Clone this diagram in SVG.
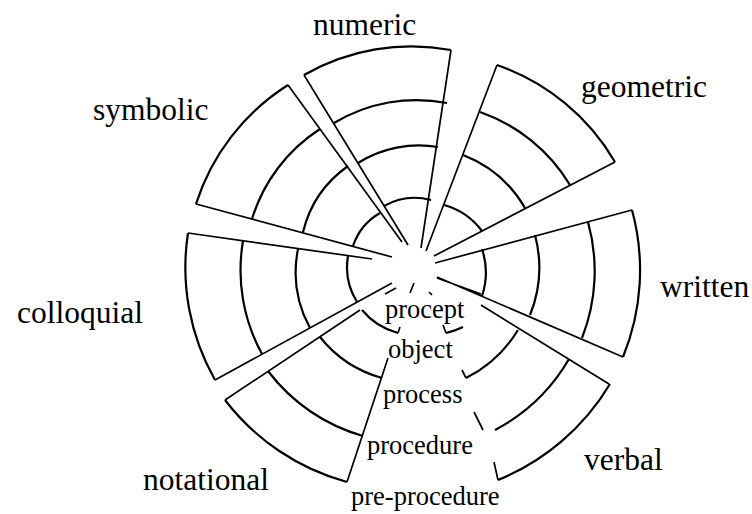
<svg xmlns="http://www.w3.org/2000/svg" width="752" height="514" viewBox="0 0 752 514">
  <style>
    .ring { fill: none; stroke: #000; stroke-width: 2.2; stroke-linecap: butt; }
    .spoke { fill: none; stroke: #000; stroke-width: 1.7; stroke-linecap: butt; }
    .big { font-family: "Liberation Serif", "Times New Roman", serif; font-size: 31.5px; fill: #000; }
    .small { font-family: "Liberation Serif", "Times New Roman", serif; font-size: 26.5px; fill: #000; }
  </style>
  <rect width="752" height="514" fill="#fff"/>

  <!-- numeric sector -->
  <g id="numeric">
    <path class="spoke" d="M304,75 L408,245 M451,50 L421,248"/>
    <path class="ring" d="M304,75 A216,216 0 0 1 451,50 M334,123 A160,160 0 0 1 447,103 M358,163 A115,115 0 0 1 438,147 M384,206 A63,63 0 0 1 431,200"/>
    <text class="big" x="313" y="35">numeric</text>
  </g>

  <!-- geometric sector -->
  <g id="geometric">
    <path class="spoke" d="M497,65 L426,251 M615,162 L434,256"/>
    <path class="ring" d="M497,65 A220,220 0 0 1 615,162 M480,112 A170,170 0 0 1 570,185 M463,155 A122,122 0 0 1 525,208 M444,205 A71,71 0 0 1 482,231"/>
    <text class="big" x="581" y="97">geometric</text>
  </g>

  <!-- written sector -->
  <g id="written">
    <path class="spoke" d="M632,210 L435,263 M623,357 L437,277 M437,278 L481,294"/>
    <path class="ring" d="M632,210 A229,229 0 0 1 623,357 M588,222 A183,183 0 0 1 582,338 M535,235 A127,127 0 0 1 530,315 M482,249 A74,74 0 0 1 482,296"/>
    <text class="big" x="660" y="297">written</text>
  </g>

  <!-- verbal sector (its inner edge is broken) -->
  <g id="verbal">
    <path class="spoke" d="M481,305 L609,384"/>
    <path class="spoke" d="M494,462 L498,480 M474,412 L483,430 M462,370 L466,378 M443,325 L446,333 M429,292 L432,295"/>
    <path class="ring" d="M610,384 A233,233 0 0 1 498,480 M569,359 A186,186 0 0 1 495,430 M518,330 A128,128 0 0 1 466,378 M463,327 A80,80 0 0 1 446,333"/>
    <text class="big" x="584" y="470">verbal</text>
  </g>

  <!-- notational sector -->
  <g id="notational">
    <path class="spoke" d="M225,400 L360,310 M385,294 L396,288 M347,482 L388,358 M398,333 L400,327 M410,293 L414,283"/>
    <path class="ring" d="M347,482 A230,230 0 0 1 225,400 M363,436 A181,181 0 0 1 268,371 M382,378 A120,120 0 0 1 320,337 M398,333 A70,70 0 0 1 362,310"/>
    <text class="big" x="143" y="490">notational</text>
  </g>

  <!-- colloquial sector -->
  <g id="colloquial">
    <path class="spoke" d="M188,233 L372,259 M215,380 L392,283"/>
    <path class="ring" d="M215,380 A228,228 0 0 1 188,233 M262,354 A174,174 0 0 1 243,241 M310,328 A117,117 0 0 1 298,249 M357,302 A66,66 0 0 1 348,256"/>
    <text class="big" x="17" y="323">colloquial</text>
  </g>

  <!-- symbolic sector -->
  <g id="symbolic">
    <path class="spoke" d="M196,204 L392,257 M288,85 L402,242"/>
    <path class="ring" d="M196,204 A220,220 0 0 1 288,85 M252,219 A164,164 0 0 1 320,129 M303,232 A114,114 0 0 1 348,166 M353,246 A60,60 0 0 1 380,213"/>
    <text class="big" x="93" y="120">symbolic</text>
  </g>

  <!-- level names along the open sector -->
  <g id="levels">
    <text class="small" x="385" y="318">procept</text>
    <text class="small" x="388" y="358">object</text>
    <text class="small" x="383" y="403">process</text>
    <text class="small" x="367" y="454">procedure</text>
    <text class="small" x="351" y="505">pre-procedure</text>
  </g>
</svg>
